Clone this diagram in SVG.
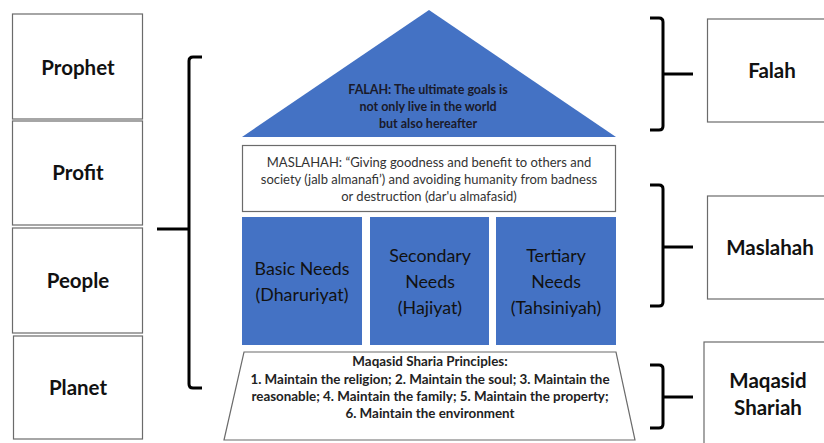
<svg xmlns="http://www.w3.org/2000/svg" width="824" height="443" viewBox="0 0 824 443">
<style>
.box{fill:#fff;stroke:#6b6b6b;stroke-width:1.2}
.blue{fill:#4472C4}
.brace{fill:none;stroke:#000;stroke-width:3;stroke-linejoin:round}
.lbl{font-family:Lato,"Liberation Sans",sans-serif;font-weight:bold;font-size:20.5px;fill:#111;text-anchor:middle}
.fal{font-family:Lato,"Liberation Sans",sans-serif;font-weight:bold;font-size:12.5px;fill:#1a1a2a;text-anchor:middle}
.mas{font-family:Lato,"Liberation Sans",sans-serif;font-size:13px;fill:#333;text-anchor:middle}
.need{font-family:Lato,"Liberation Sans",sans-serif;font-size:17.8px;fill:#111;text-anchor:middle}
.maq{font-family:Lato,"Liberation Sans",sans-serif;font-weight:bold;font-size:13.4px;fill:#222;text-anchor:middle}
</style>
<rect width="824" height="443" fill="#fff"/>
<g id="prophet"><rect class="box" x="12.5" y="14" width="130" height="105"/><text class="lbl" x="78" y="75">Prophet</text></g>
<g id="profit"><rect class="box" x="12.5" y="121" width="130" height="104"/><text class="lbl" x="78" y="180">Profit</text></g>
<g id="people"><rect class="box" x="12.5" y="228" width="130" height="105"/><text class="lbl" x="78" y="288">People</text></g>
<g id="planet"><rect class="box" x="13.5" y="336" width="129" height="103"/><text class="lbl" x="78" y="395">Planet</text></g>

<g id="falah-roof"><polygon class="blue" points="429,10 616,137 242,137"/>
<text class="fal" x="428" y="94">FALAH: The ultimate goals is</text>
<text class="fal" x="428" y="111">not only live in the world</text>
<text class="fal" x="428" y="128">but also hereafter</text></g>

<g id="maslahah-def"><rect class="box" x="242.5" y="145.5" width="373" height="66" stroke="#404040"/>
<text class="mas" x="429" y="167">MASLAHAH: “Giving goodness and benefit to others and</text>
<text class="mas" x="429" y="184">society (jalb almanafi’) and avoiding humanity from badness</text>
<text class="mas" x="429" y="201">or destruction (dar'u almafasid)</text></g>

<g id="basic"><rect class="blue" x="242" y="217" width="120" height="128"/>
<text class="need" x="302" y="275">Basic Needs</text><text class="need" x="302" y="301">(Dharuriyat)</text></g>
<g id="secondary"><rect class="blue" x="370" y="217" width="119" height="128"/>
<text class="need" x="430" y="262">Secondary</text><text class="need" x="430" y="288">Needs</text><text class="need" x="430" y="314">(Hajiyat)</text></g>
<g id="tertiary"><rect class="blue" x="496" y="217" width="120" height="128"/>
<text class="need" x="556" y="262">Tertiary</text><text class="need" x="556" y="288">Needs</text><text class="need" x="556" y="314">(Tahsiniyah)</text></g>

<g id="maqasid-base"><polygon class="box" points="244,352 616,352 635,440 224,440" stroke="#404040"/>
<text class="maq" x="430" y="366">Maqasid Sharia Principles:</text>
<text class="maq" x="430" y="384">1. Maintain the religion; 2. Maintain the soul; 3. Maintain the</text>
<text class="maq" x="430" y="401">reasonable; 4. Maintain the family; 5. Maintain the property;</text>
<text class="maq" x="430" y="418">6. Maintain the environment</text></g>

<g id="falah"><rect class="box" x="707.5" y="19" width="130" height="103"/><text class="lbl" x="772" y="78">Falah</text></g>
<g id="maslahah"><rect class="box" x="707.5" y="196" width="130" height="103"/><text class="lbl" x="770" y="255">Maslahah</text></g>
<g id="maqasid"><rect class="box" x="704" y="342" width="130" height="110"/><text class="lbl" x="768" y="388">Maqasid</text><text class="lbl" x="768" y="415">Shariah</text></g>

<g id="connectors">
<path class="brace" d="M202,57 H193 Q189,57 189,61 V384 Q189,388 193,388 H202"/>
<path class="brace" d="M157,229 H189"/>
<path class="brace" d="M650,18 H659 Q663,18 663,22 V126 Q663,130 659,130 H650"/>
<path class="brace" d="M663,74 H693"/>
<path class="brace" d="M650,185 H659 Q663,185 663,189 V302 Q663,306 659,306 H650"/>
<path class="brace" d="M663,247 H693"/>
<path class="brace" d="M650,365 H659 Q663,365 663,369 V424 Q663,428 659,428 H650"/>
<path class="brace" d="M663,397 H693"/>
</g>
</svg>
